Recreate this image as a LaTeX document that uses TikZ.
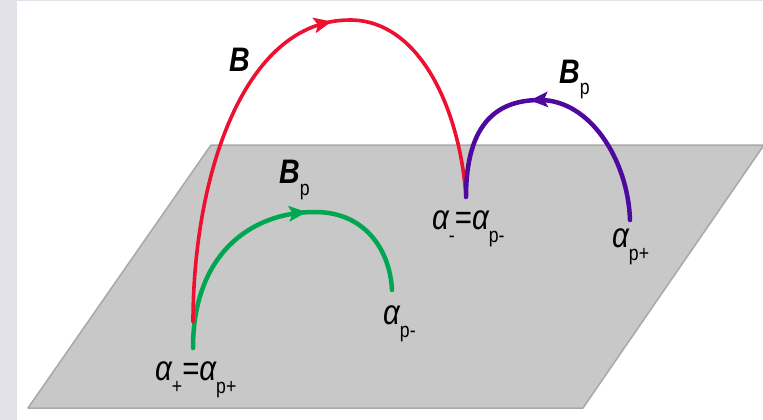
\documentclass[tikz,border=0pt]{standalone}
\usepackage{fontspec}
\setmainfont{Liberation Sans}
\usetikzlibrary{decorations.markings}
\definecolor{FieldRed}{HTML}{EE1030}
\definecolor{FieldGreen}{HTML}{00A651}
\definecolor{FieldPurple}{HTML}{4E0A9E}
\definecolor{PlaneGray}{HTML}{C8C8C8}
\definecolor{PlaneEdge}{HTML}{A8A8A8}
\definecolor{FrameGray}{HTML}{E3E1E9}
\newcommand{\al}{{\itshape α}}
\newcommand{\lo}[2][13]{\raisebox{-#1pt}{\fontsize{21}{21}\selectfont #2}}
\newcommand{\Bf}{{\fontsize{34}{34}\selectfont\bfseries\itshape B}}
\newcommand{\nar}[1]{\scalebox{0.84}[1]{#1}}

\begin{document}
\begin{tikzpicture}[x=1pt,y=-1pt,line cap=round,line join=round,
  lbl/.style={inner sep=0pt,anchor=base west,font=\fontsize{35}{35}\selectfont},
  fieldline/.style={line width=#1,postaction={decorate}},
  midarrow/.style={decoration={markings,
    mark=at position #1 with {\fill (-14pt,-8pt) -- (4pt,0pt) -- (-14pt,8pt) -- (-10pt,0pt) -- cycle;}}}]
  \useasboundingbox (0,0) rectangle (763,420);
  \fill[white] (0,0) rectangle (763,420);
  \fill[FrameGray] (0,0) rectangle (17,420); \fill[FrameGray] (17,0) rectangle (763,1.5);
  % plane
  \filldraw[fill=PlaneGray,draw=PlaneEdge,line width=1.5pt]
    (28,408) -- (583,408) -- (764,145) -- (211,145) -- cycle;
  \coordinate (aplus) at (193,348); \coordinate (aminus) at (466,197);
  \coordinate (apminus) at (392,290); \coordinate (applus) at (630,220);
  % fields
  \draw[FieldGreen,fieldline=4.5pt,midarrow=0.59] (aplus)
    .. controls (193,255) and (250,212) .. (315,212)
    .. controls (365,212) and (390,250) .. (apminus);
  \draw[FieldRed,fieldline=3.6pt,midarrow=0.58] (193,322)
    .. controls (193,180) and (242,20) .. (350,20)
    .. controls (420,20) and (460,110) .. (aminus);
  \draw[FieldPurple,fieldline=4.5pt,midarrow=0.56] (applus)
    .. controls (628,160) and (590,100) .. (540,100)
    .. controls (500,100) and (466,120) .. (aminus);
  % labels
  \node[lbl] (lplus) at (155,380) {\nar{\al\lo{+}=\al\lo{p+}}};
  \node[lbl] (lminus) at (432,229) {\nar{\al\lo{-}=\al\lo{p-}}};
  \node[lbl] (lpminus) at (383,324) {\nar{\al\lo{p-}}};
  \node[lbl] (lpplus) at (612,247) {\nar{\al\lo{p+}}};
  \node[lbl] (lB) at (229,72) {\nar{\Bf}};
  \node[lbl] (lBg) at (279,183) {\nar{\Bf\lo[12]{p}}};
  \node[lbl] (lBv) at (559,83) {\nar{\Bf\lo[12]{p}}};
\end{tikzpicture}
\end{document}
